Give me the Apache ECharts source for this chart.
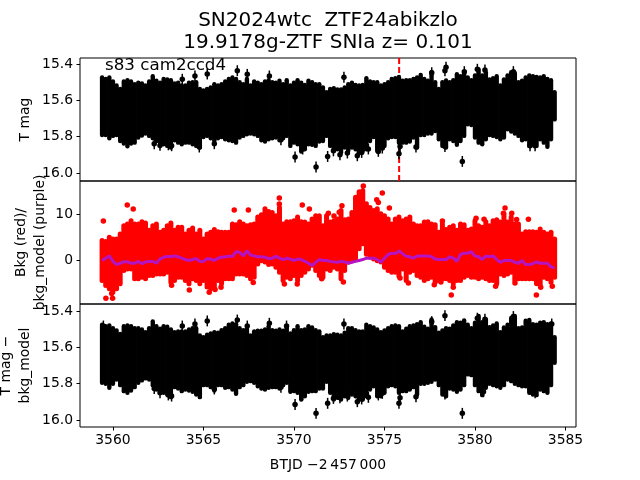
<!DOCTYPE html>
<html>
<head>
<meta charset="utf-8">
<style>
  html, body { margin: 0; padding: 0; background: #fff; }
  #chart { width: 640px; height: 480px; }
</style>
<script src="https://cdn.jsdelivr.net/npm/echarts@6/dist/echarts.min.js"></script>
</head>
<body>
<div id="chart"></div>
<script>
// time columns, every 0.2 d
const times = [
  3559.4, 3559.6, 3559.8, 3560.0, 3560.2, 3560.4, 3560.6, 3560.8, 3561.0, 3561.2,
  3561.4, 3561.6, 3561.8, 3562.0, 3562.2, 3562.4, 3562.6, 3562.8, 3563.0, 3563.2,
  3563.4, 3563.6, 3563.8, 3564.0, 3564.2, 3564.4, 3564.6, 3564.8, 3565.0, 3565.2,
  3565.4, 3565.6, 3565.8, 3566.0, 3566.2, 3566.4, 3566.6, 3566.8, 3567.0, 3567.2,
  3567.4, 3567.6, 3567.8, 3568.0, 3568.2, 3568.4, 3568.6, 3568.8, 3569.0, 3569.2,
  3569.4, 3569.6, 3569.8, 3570.0, 3570.2, 3570.4, 3570.6, 3570.8, 3571.0, 3571.2,
  3571.4, 3571.6, 3571.8, 3572.0, 3572.2, 3572.4, 3572.6, 3572.8, 3573.0, 3573.2,
  3573.4, 3573.6, 3573.8, 3574.0, 3574.2, 3574.4, 3574.6, 3574.8, 3575.0, 3575.2,
  3575.4, 3575.6, 3575.8, 3576.0, 3576.2, 3576.4, 3576.6, 3576.8, 3577.0, 3577.2,
  3577.4, 3577.6, 3577.8, 3578.0, 3578.2, 3578.4, 3578.6, 3578.8, 3579.0, 3579.2,
  3579.4, 3579.6, 3579.8, 3580.0, 3580.2, 3580.4, 3580.6, 3580.8, 3581.0, 3581.2,
  3581.4, 3581.6, 3581.8, 3582.0, 3582.2, 3582.4, 3582.6, 3582.8, 3583.0, 3583.2,
  3583.4, 3583.6, 3583.8, 3584.0, 3584.2, 3584.4
]

// top panel: T mag band, bright and faint edge
const magBright = [
  15.462, 15.470, 15.462, 15.484, 15.506, 15.525, 15.484, 15.477, 15.484, 15.499,
  15.491, 15.495, 15.506, 15.484, 15.455, 15.480, 15.491, 15.470, 15.473, 15.477,
  15.495, 15.491, 15.506, 15.506, 15.491, 15.488, 15.488, 15.525, 15.534, 15.525,
  15.517, 15.499, 15.506, 15.499, 15.484, 15.470, 15.462, 15.470, 15.488, 15.499,
  15.470, 15.506, 15.484, 15.491, 15.499, 15.484, 15.477, 15.488, 15.491, 15.480,
  15.499, 15.477, 15.506, 15.491, 15.477, 15.491, 15.503, 15.480, 15.488, 15.499,
  15.499, 15.517, 15.543,
  15.525, 15.521, 15.528, 15.528, 15.517, 15.499, 15.491, 15.503, 15.506, 15.503,
  15.466, 15.484, 15.488, 15.488, 15.506, 15.499, 15.488, 15.470, 15.466, 15.459,
  15.480, 15.477, 15.477, 15.470, 15.462, 15.448, 15.470, 15.480, 15.433, 15.488,
  15.525, 15.488, 15.479, 15.488, 15.477, 15.444, 15.455, 15.437, 15.462, 15.477,
  15.451, 15.418, 15.451, 15.433, 15.473, 15.466, 15.455, 15.506, 15.473, 15.451,
  15.433, 15.437, 15.488, 15.480, 15.462, 15.451, 15.455, 15.459, 15.462, 15.455,
  15.470, 15.477, 15.543
]
const magFaint = [
  15.803, 15.803, 15.821, 15.808, 15.803, 15.836, 15.850, 15.865, 15.850, 15.845,
  15.817, 15.806, 15.795, 15.808, 15.821, 15.836, 15.845, 15.854, 15.863, 15.872,
  15.832, 15.845, 15.854, 15.845, 15.845, 15.854, 15.863, 15.872, 15.814, 15.808,
  15.821, 15.836, 15.821, 15.814, 15.826, 15.832, 15.836, 15.845, 15.817, 15.808,
  15.799, 15.795, 15.799, 15.808, 15.832, 15.839, 15.826, 15.821, 15.817, 15.832,
  15.821, 15.808, 15.863, 15.845, 15.854, 15.894, 15.881, 15.854, 15.857, 15.863,
  15.839, 15.836, 15.808,
  15.863, 15.890, 15.881, 15.900, 15.872, 15.890, 15.872, 15.881, 15.900, 15.890,
  15.881, 15.836, 15.814, 15.890, 15.872, 15.863, 15.821, 15.814, 15.814, 15.845,
  15.845, 15.845, 15.839, 15.817, 15.872, 15.803, 15.803, 15.795, 15.795, 15.781,
  15.826, 15.863, 15.872, 15.826, 15.836, 15.857, 15.836, 15.808, 15.744, 15.748,
  15.817, 15.845, 15.854, 15.826, 15.803, 15.808, 15.814, 15.826, 15.817, 15.771,
  15.784, 15.795, 15.808, 15.832, 15.826, 15.863, 15.854, 15.863, 15.826, 15.845,
  15.868, 15.826, 15.717
]
// isolated points sticking out of the band [t, mag]
const magOutliers = [
  [3563.83, 15.484], [3564.53, 15.466], [3565.21, 15.455], [3566.87, 15.437], [3567.42, 15.457],
  [3568.64, 15.466], [3562.28, 15.839], [3562.60, 15.848], [3563.06, 15.845], [3563.24, 15.850],
  [3564.77, 15.857], [3565.60, 15.839], [3569.28, 15.817], [3570.06, 15.912], [3570.48, 15.868],
  [3571.22, 15.967], [3571.86, 15.909], [3570.20, 15.817], [3572.76, 15.473], [3578.34, 15.437],
  [3578.40, 15.418], [3579.41, 15.442], [3580.13, 15.429], [3580.55, 15.433], [3582.12, 15.442],
  [3577.61, 15.448], [3579.30, 15.936], [3575.80, 15.894], [3575.86, 15.854], [3576.74, 15.857],
  [3578.34, 15.854], [3583.04, 15.850], [3583.32, 15.850], [3572.54, 15.900], [3572.95, 15.890],
  [3573.50, 15.905], [3573.74, 15.887], [3574.11, 15.868], [3574.66, 15.881], [3574.88, 15.863],
  [3572.18, 15.878]
]

// middle panel: background band, outliers, and the model
const bkgHigh = [
  4.8, 4.6, 5.5, 5.1, 5.1, 6.2, 8.0, 8.4, 9.1, 8.4,
  8.4, 8.9, 8.6, 7.0, 8.0, 8.4, 6.6, 7.0, 8.0, 8.6,
  7.0, 7.7, 7.7, 6.2, 7.0, 7.5, 6.2, 7.0, 5.1, 6.2,
  6.6, 7.2, 6.7, 6.6, 6.6, 6.6, 8.4, 8.2, 8.9, 8.4,
  8.0, 8.2, 8.4, 9.9, 10.4, 11.7, 11.1, 10.9, 10.2, 12.0,
  8.4, 8.9, 8.9, 9.1, 9.9, 8.9, 8.8, 8.4, 9.5, 10.2,
  10.2, 8.0, 10.2,
  8.8, 9.1, 9.5, 11.3, 9.3, 9.5, 10.9, 14.2, 15.4, 15.7,
  12.8, 12.0, 11.3, 11.7, 10.6, 10.2, 9.5, 8.4, 9.5, 9.9,
  9.1, 9.5, 9.9, 8.4, 8.0, 8.0, 8.8, 8.9, 8.4, 8.2,
  6.6, 8.4, 7.2, 7.7, 8.0, 7.0, 8.4, 8.2, 7.0, 7.3,
  9.1, 8.0, 7.7, 8.9, 8.0, 9.1, 9.3, 8.8, 10.6, 8.8,
  9.9, 8.4, 8.4, 6.2, 6.7, 6.7, 6.7, 6.6, 7.3, 6.6,
  6.2, 6.6, 5.1
]
const bkgLow = [
  -5.0, -6.1, -6.8, -7.5, -6.8, -5.7, -2.8, -2.5, -2.5, -4.6,
  -4.6, -4.3, -4.6, -3.9, -3.9, -3.6, -3.6, -3.6, -3.2, -5.4,
  -5.0, -4.3, -4.3, -5.0, -5.7, -4.6, -5.0, -5.7, -5.0, -6.4,
  -6.8, -6.4, -5.0, -5.7, -4.6, -4.6, -4.6, -3.6, -3.6, -3.6,
  -3.9, -4.6, -4.3, -1.4, -0.7, -1.0, -1.5, -1.4, -2.1, -3.2,
  -5.0, -4.3, -4.6, -3.9, -5.0, -3.9, -3.2, -2.5, -1.7, -2.8,
  -3.9, -4.3, -2.5,
  -2.8, -2.1, -2.5, -4.6, -2.8, -1.0, -0.7, -0.3, 1.9, 3.0,
  0.7, 0.1, -0.3, -0.7, -1.0, -2.1, -2.8, -3.2, -3.2, -4.1,
  -2.5, -5.0, -3.2, -2.8, -3.9, -4.3, -5.0, -4.6, -4.3, -5.4,
  -5.0, -4.6, -4.6, -5.0, -5.7, -5.0, -5.0, -4.3, -3.9, -4.3,
  -4.3, -4.6, -4.3, -4.6, -5.0, -5.0, -5.7, -3.6, -3.9, -3.6,
  -3.2, -5.0, -4.6, -4.6, -4.6, -4.6, -4.6, -5.4, -5.9, -4.3,
  -4.6, -5.4, -4.3
]
const bkgModel = [
  -0.1, 0.4, 0.9, -0.3, -1.0, -0.7, -0.4, -0.4, -0.7, -0.7,
  -0.3, -0.8, -0.4, -0.3, -0.3, -0.7, 0.2, 0.6, 0.8, 0.7,
  0.9, 0.7, 0.4, 0.1, -0.1, 0.1, 0.3, -0.3, -0.3, 0.3,
  0.2, -0.1, 0.4, 0.6, 0.7, 0.8, 0.8, 1.8, 1.7, 0.9,
  2.0, 1.1, 0.9, 0.7, 0.7, 0.6, 0.3, 0.4, 0.8, 0.4,
  0.1, 0.4, 0.2, -0.1, 0.2, 0.1, -0.3, -0.7, -1.2, -0.5,
  0.1, -0.1, -0.1,
  -0.3, -0.4, -0.5, -0.3, -0.4, -0.7, -0.5, -0.3, -0.1, 0.1,
  0.4, 0.4, 0.4, 0.1, -0.5, 0.4, 1.2, 1.5, 1.4, 2.0,
  1.4, 0.8, 0.7, 0.4, 0.9, 0.9, 0.9, 0.9, 0.7, 0.2,
  0.1, 0.1, 0.1, 0.7, 0.4, -0.3, 1.2, 1.5, 1.5, 1.8,
  0.9, 0.7, 0.1, 0.9, 0.7, 0.9, 0.1, -0.5, -0.1, -0.1,
  -0.1, -0.5, -0.7, -0.1, -1.0, -1.0, -0.8, -0.4, -0.7, -0.7,
  -0.7, -1.5, -1.7
]
const bkgOutliers = [
  [3559.47, 8.5], [3560.79, 12.0], [3561.12, 11.1], [3569.19, 13.5], [3569.19, 12.2],
  [3570.46, 12.0], [3566.70, 10.9], [3567.48, 10.9], [3570.85, 11.1], [3571.90, 10.2],
  [3559.61, -8.3], [3559.98, -8.3], [3559.93, -7.3], [3564.22, -6.5], [3565.32, -7.0],
  [3565.64, -6.4], [3565.97, -5.9], [3563.24, -5.5], [3567.75, -4.9], [3569.47, -5.2],
  [3570.18, -5.2], [3571.53, -4.1], [3573.83, 16.1], [3574.88, 14.6], [3574.57, 13.1],
  [3574.66, 12.5], [3575.27, 11.3], [3572.21, 9.6], [3572.65, 11.8], [3572.50, 10.4],
  [3581.66, 11.3], [3581.57, 10.2], [3582.03, 10.2], [3580.50, 8.9], [3582.95, 8.9],
  [3582.30, 8.8], [3578.69, -7.6], [3578.80, -5.9], [3583.39, -7.6], [3583.63, -5.9],
  [3584.27, -5.7], [3583.41, -5.1], [3572.73, -4.8], [3576.32, -5.0], [3577.75, -5.4],
  [3578.12, -4.8], [3575.86, -3.9], [3581.14, -5.7], [3582.21, -5.0], [3580.06, 9.1],
  [3578.20, 8.5]
]

// bottom panel: T mag minus bkg_model
const detBright = [
  15.464, 15.472, 15.468, 15.483, 15.495, 15.514, 15.472, 15.468, 15.472, 15.483,
  15.483, 15.490, 15.505, 15.483, 15.446, 15.472, 15.486, 15.472, 15.475, 15.490,
  15.505, 15.501, 15.501, 15.501, 15.490, 15.483, 15.483, 15.523, 15.532, 15.519,
  15.512, 15.505, 15.508, 15.494, 15.483, 15.464, 15.457, 15.461, 15.483, 15.494,
  15.486, 15.523, 15.501, 15.497, 15.497, 15.490, 15.472, 15.494, 15.497, 15.490,
  15.497, 15.483, 15.512, 15.494, 15.472, 15.494, 15.490, 15.472, 15.479, 15.494,
  15.501, 15.532, 15.523,
  15.523, 15.516, 15.519, 15.523, 15.508, 15.483, 15.483, 15.494, 15.501, 15.501,
  15.464, 15.472, 15.479, 15.490, 15.505, 15.495, 15.483, 15.472, 15.468, 15.472,
  15.501, 15.486, 15.472, 15.468, 15.461, 15.450, 15.475, 15.486, 15.435, 15.477,
  15.508, 15.495, 15.483, 15.486, 15.468, 15.450, 15.453, 15.440, 15.464, 15.483,
  15.453, 15.416, 15.450, 15.435, 15.477, 15.468, 15.457, 15.505, 15.479, 15.464,
  15.427, 15.416, 15.483, 15.479, 15.442, 15.438, 15.461, 15.464, 15.453, 15.450,
  15.461, 15.457, 15.532
]
const detFaint = [
  15.807, 15.813, 15.835, 15.813, 15.789, 15.820, 15.853, 15.862, 15.850, 15.831,
  15.807, 15.794, 15.783, 15.789, 15.820, 15.844, 15.853, 15.862, 15.872, 15.886,
  15.831, 15.839, 15.853, 15.844, 15.850, 15.857, 15.872, 15.886, 15.820, 15.820,
  15.831, 15.850, 15.820, 15.820, 15.835, 15.831, 15.844, 15.868, 15.831, 15.820,
  15.802, 15.798, 15.807, 15.826, 15.839, 15.844, 15.835, 15.831, 15.831, 15.839,
  15.820, 15.807, 15.857, 15.853, 15.862, 15.899, 15.881, 15.857, 15.853, 15.853,
  15.839, 15.839, 15.802,
  15.862, 15.899, 15.890, 15.899, 15.881, 15.890, 15.872, 15.881, 15.899, 15.899,
  15.881, 15.844, 15.826, 15.881, 15.881, 15.862, 15.826, 15.820, 15.826, 15.862,
  15.853, 15.853, 15.844, 15.831, 15.872, 15.813, 15.813, 15.807, 15.802, 15.789,
  15.820, 15.872, 15.881, 15.839, 15.844, 15.857, 15.844, 15.820, 15.761, 15.765,
  15.820, 15.853, 15.875, 15.835, 15.813, 15.820, 15.826, 15.835, 15.820, 15.789,
  15.798, 15.813, 15.820, 15.826, 15.826, 15.862, 15.872, 15.875, 15.844, 15.853,
  15.862, 15.820, 15.697
]
const detOutliers = [
  [3559.47, 15.483], [3563.83, 15.483], [3564.53, 15.472], [3565.21, 15.455], [3566.87, 15.450],
  [3567.42, 15.483], [3568.64, 15.468], [3569.59, 15.483], [3562.28, 15.826], [3562.60, 15.850],
  [3563.06, 15.862], [3563.24, 15.868], [3564.77, 15.853], [3565.60, 15.829], [3569.28, 15.820],
  [3570.06, 15.914], [3570.48, 15.862], [3571.22, 15.963], [3571.86, 15.908], [3572.76, 15.472],
  [3578.34, 15.426], [3580.13, 15.440], [3580.55, 15.446], [3582.12, 15.431], [3584.24, 15.472],
  [3577.61, 15.459], [3579.30, 15.963], [3575.80, 15.908], [3576.74, 15.872], [3573.50, 15.899],
  [3583.04, 15.831], [3583.32, 15.850], [3575.86, 15.877], [3572.18, 15.881], [3572.54, 15.877],
  [3572.95, 15.868], [3573.74, 15.884], [3574.11, 15.875], [3574.66, 15.862], [3574.88, 15.853],
  [3578.34, 15.857], [3580.47, 15.844]
]

const magErr = 0.03 // error bar half length of the isolated points
const peakTime = 3575.81 // dashed red line

const xTicks = [3560, 3565, 3570, 3575, 3580, 3585]
const magTicks = [15.4, 15.6, 15.8, 16.0]
const bkgTicks = [0, 10]

const chart = echarts.init(document.getElementById('chart'))
const tickFont = { fontFamily: 'DejaVu Sans', fontSize: 13.9, color: '#000' }
const nameFont = { fontFamily: 'DejaVu Sans', fontSize: 13.9, color: '#000', lineHeight: 19 }

function zipBand (low, high) {
  return times.map((t, i) => [t, low[i], high[i]])
}

// one round capped vertical stroke per column
function columnRenderer (color, width) {
  return function (params, api) {
    const a = api.coord([api.value(0), api.value(1)])
    const b = api.coord([api.value(0), api.value(2)])
    const top = Math.min(a[1], b[1]) + width / 2
    const bot = Math.max(a[1], b[1]) - width / 2
    return {
      type: 'line',
      shape: { x1: a[0], y1: top, x2: a[0], y2: Math.max(top, bot) },
      style: { stroke: color, lineWidth: width, lineCap: 'round' }
    }
  }
}

function errorBarRenderer (params, api) {
  const a = api.coord([api.value(0), api.value(1) - magErr])
  const b = api.coord([api.value(0), api.value(1) + magErr])
  return {
    type: 'line',
    shape: { x1: a[0], y1: a[1], x2: b[0], y2: b[1] },
    style: { stroke: '#000', lineWidth: 1.5 }
  }
}

function bandSeries (idx, low, high, color, width) {
  return {
    type: 'custom',
    xAxisIndex: idx,
    yAxisIndex: idx,
    renderItem: columnRenderer(color, width),
    encode: { x: 0, y: [1, 2] },
    data: zipBand(low, high),
    silent: true,
    z: 3
  }
}

function dotSeries (idx, data, color, size) {
  return {
    type: 'scatter',
    xAxisIndex: idx,
    yAxisIndex: idx,
    data: data,
    symbolSize: size,
    itemStyle: { color: color, opacity: 1 },
    silent: true,
    z: 3
  }
}

function barSeries (idx, data) {
  return {
    type: 'custom',
    xAxisIndex: idx,
    yAxisIndex: idx,
    renderItem: errorBarRenderer,
    encode: { x: 0, y: 1 },
    data: data,
    silent: true,
    z: 3
  }
}

function yAxis (idx, opts) {
  return Object.assign({
    gridIndex: idx,
    type: 'value',
    nameLocation: 'middle',
    nameRotate: 90,
    nameMoveOverlap: false,
    nameTextStyle: nameFont,
    splitLine: { show: false },
    axisLine: { show: false },
    axisTick: { show: true, length: 3.5, lineStyle: { color: '#000', width: 1 }, customValues: opts.ticks },
    axisLabel: { customValues: opts.ticks, margin: 7, ...tickFont, formatter: opts.fmt }
  }, opts.axis)
}

function xAxis (idx, shown) {
  return {
    gridIndex: idx,
    type: 'value',
    min: 3558.18,
    max: 3585.58,
    show: shown,
    name: shown ? 'BTJD \u22122\u2009457\u2009000' : '',
    nameLocation: 'middle',
    nameGap: 29,
    nameMoveOverlap: false,
    nameTextStyle: nameFont,
    splitLine: { show: false },
    axisLine: { show: false },
    axisTick: { show: true, length: 3.5, lineStyle: { color: '#000', width: 1 }, customValues: xTicks },
    axisLabel: { customValues: xTicks, margin: 6, ...tickFont, formatter: v => String(v) }
  }
}

const magFmt = v => v.toFixed(1)

function gridBox (top) {
  return {
    left: 80,
    width: 496,
    top: top,
    height: 123,
    show: true,
    borderColor: '#000',
    borderWidth: 1,
    backgroundColor: 'transparent',
    outerBoundsMode: 'none'
  }
}

chart.setOption({
  animation: false,
  backgroundColor: '#fff',
  title: [
    {
      text: 'SN2024wtc  ZTF24abikzlo\n19.9178g-ZTF SNIa z= 0.101',
      left: 328,
      top: 10,
      padding: 0,
      textAlign: 'center',
      textStyle: { fontFamily: 'DejaVu Sans', fontSize: 20, fontWeight: 'normal', color: '#000', lineHeight: 22 }
    },
    {
      text: 's83 cam2ccd4',
      left: 105,
      top: 58,
      padding: 0,
      textStyle: { fontFamily: 'DejaVu Sans', fontSize: 16.7, fontWeight: 'normal', color: '#000', lineHeight: 16 },
      z: 6
    }
  ],
  grid: [gridBox(58), gridBox(181), gridBox(304)],
  xAxis: [xAxis(0, false), xAxis(1, false), xAxis(2, true)],
  yAxis: [
    yAxis(0, { ticks: magTicks, fmt: magFmt, axis: { inverse: true, min: 15.367, max: 16.044, name: 'T mag', nameGap: 45 } }),
    yAxis(1, { ticks: bkgTicks, fmt: v => String(v), axis: { min: -9.57, max: 17.2, name: 'Bkg (red)/\nbkg_model (purple)', nameGap: 30 } }),
    yAxis(2, { ticks: magTicks, fmt: magFmt, axis: { inverse: true, min: 15.362, max: 16.038, name: 'T mag \u2212\nbkg_model', nameGap: 45 } })
  ],
  series: [
    {
      type: 'line',
      xAxisIndex: 0,
      yAxisIndex: 0,
      data: [[peakTime, 15.367], [peakTime, 16.044]],
      showSymbol: false,
      lineStyle: { color: '#f00', width: 2, type: [6, 3] },
      silent: true,
      z: 2
    },
    bandSeries(0, magFaint, magBright, '#000', 4.4),
    barSeries(0, magOutliers),
    dotSeries(0, magOutliers, '#000', 5.5),

    bandSeries(1, bkgLow, bkgHigh, '#f00', 5),
    dotSeries(1, bkgOutliers, '#f00', 5.5),
    {
      type: 'line',
      xAxisIndex: 1,
      yAxisIndex: 1,
      data: times.map((t, i) => [t, bkgModel[i]]),
      showSymbol: false,
      lineStyle: { color: '#b414c4', width: 3 },
      silent: true,
      z: 4
    },

    bandSeries(2, detFaint, detBright, '#000', 4.4),
    barSeries(2, detOutliers),
    dotSeries(2, detOutliers, '#000', 5.5)
  ]
})
</script>
</body>
</html>
